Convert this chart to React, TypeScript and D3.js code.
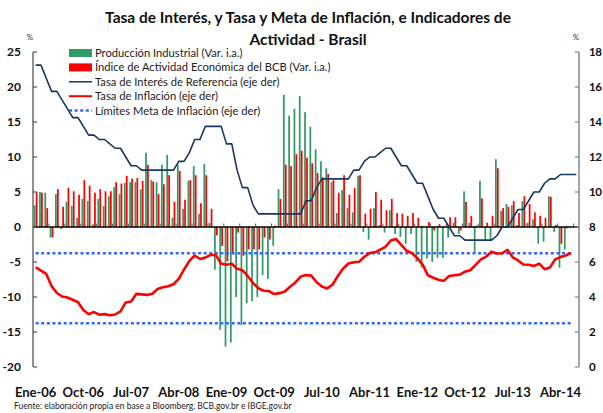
import React from "react";
import * as d3 from "d3";

const W = 603;
const H = 413;

const monthNames = ["Ene", "Feb", "Mar", "Abr", "May", "Jun", "Jul", "Ago", "Sep", "Oct", "Nov", "Dic"];
const years = ["06", "07", "08", "09", "10", "11", "12", "13", "14"];
const categories: string[] = [];
years.forEach((yy) => monthNames.forEach((m) => categories.push(`${m}-${yy}`)));
categories.splice(103); // Ene-06 .. Jul-14

const xTickLabels = ["Ene-06", "Oct-06", "Jul-07", "Abr-08", "Ene-09", "Oct-09", "Jul-10", "Abr-11", "Ene-12", "Oct-12", "Jul-13", "Abr-14"];
const leftTicks = [25, 20, 15, 10, 5, 0, -5, -10, -15, -20];
const rightTicks = [18, 16, 14, 12, 10, 8, 6, 4, 2, 0];

// Producción Industrial (Var. i.a.) - eje izq
const prodIndustrial = [
  3.1, 5.0, 4.9, -1.5, 4.7, -0.3, 3.6, 3.0, 1.3, 4.0, 3.7, 0.4,
  4.0, 3.0, 4.4, 5.7, 4.7, 6.3, 6.4, 6.4, 5.4, 10.6, 6.7, 6.4,
  8.9, 10.3, 1.3, 8.9, 2.6, 6.6, 8.7, 1.9, 9.0, 0.6, -6.1, -14.7,
  -17.1, -16.5, -10.0, -14.0, -10.9, -10.6, -10.0, -6.9, -7.4, -2.7, 5.4, 18.9,
  15.9, 16.9, 18.7, 16.4, 14.3, 11.1, 9.4, 8.4, 6.4, 2.0, 5.3, 2.7,
  2.1, 7.3, -0.7, -1.8, 2.7, 0.3, -0.8, 2.4, -1.0, -1.4, -2.4, -1.0,
  -5.0, -5.8, -4.5, -5.0, -4.4, -4.4, -1.5, 0.6, -1.0, 5.1, 0.6, -3.7,
  6.6, -1.8, -2.0, 9.7, 2.3, 3.3, 3.1, 0.3, 3.7, 0.6, 1.1, -2.4,
  -2.1, 4.4, -0.7, -5.8, -3.2,
];

// Índice de Actividad Económica del BCB (Var. i.a.) - eje izq
const ibcBr = [
  5.0, 4.9, 2.7, -1.5, 5.4, 2.9, 5.6, 5.1, 4.6, 6.7, 5.9, 4.9,
  5.4, 5.1, 5.1, 6.4, 6.2, 7.3, 6.9, 7.0, 6.6, 8.9, 6.5, 4.7,
  6.1, 7.4, 3.6, 8.0, 3.9, 6.7, 7.4, 3.4, 7.4, 2.6, -1.2, -2.7,
  -4.9, -3.9, -0.8, -4.1, -3.2, -3.2, -3.2, -1.5, -1.8, 0.2, 4.0, 8.9,
  8.7, 10.4, 10.9, 9.9, 9.1, 7.7, 7.1, 7.6, 6.7, 4.9, 7.4, 4.6,
  5.6, 7.4, 1.9, 2.6, 5.0, 3.9, 2.4, 4.0, 2.0, 1.9, 1.6, 2.0,
  1.3, 0.1, 0.7, -0.5, 0.4, 0.1, 1.4, 1.4, -0.5, 3.6, 1.6, 0.2,
  4.1, 0.6, 1.6, 8.4, 2.7, 2.9, 3.7, 2.0, 4.4, 3.3, 2.1, 1.6,
  1.3, 4.3, 0.3, -2.4, -0.2,
];

// Tasa de Interés de Referencia (eje der)
const selic = [
  17.25, 17.25, 16.5, 15.75, 15.75, 15.25, 14.75, 14.25, 14.25, 13.75, 13.25, 13.25,
  13.0, 13.0, 12.75, 12.5, 12.5, 12.0, 11.5, 11.5, 11.25, 11.25, 11.25, 11.25,
  11.25, 11.25, 11.25, 11.75, 11.75, 12.25, 13.0, 13.0, 13.75, 13.75, 13.75, 13.75,
  12.75, 12.75, 11.25, 10.25, 10.25, 9.25, 8.75, 8.75, 8.75, 8.75, 8.75, 8.75,
  8.75, 8.75, 8.75, 9.5, 9.5, 10.25, 10.75, 10.75, 10.75, 10.75, 10.75, 10.75,
  11.25, 11.25, 11.75, 12.0, 12.0, 12.25, 12.5, 12.5, 12.0, 11.5, 11.5, 11.0,
  10.5, 10.5, 9.75, 9.0, 8.5, 8.5, 8.0, 7.5, 7.5, 7.25, 7.25, 7.25,
  7.25, 7.25, 7.25, 7.5, 8.0, 8.0, 8.5, 9.0, 9.0, 9.5, 10.0, 10.0,
  10.5, 10.75, 10.75, 11.0, 11.0, 11.0, 11.0,
];

// Tasa de Inflación (eje der)
const inflacion = [
  5.70, 5.51, 5.32, 4.63, 4.23, 4.03, 3.97, 3.84, 3.70, 3.26, 3.02, 3.14,
  2.99, 3.02, 2.96, 3.00, 3.18, 3.69, 3.74, 4.18, 4.15, 4.12, 4.19, 4.46,
  4.56, 4.61, 4.73, 5.04, 5.58, 6.06, 6.37, 6.17, 6.25, 6.41, 6.39, 5.90,
  5.84, 5.90, 5.61, 5.53, 5.20, 4.80, 4.50, 4.36, 4.34, 4.17, 4.22, 4.31,
  4.59, 4.83, 5.17, 5.26, 5.22, 4.84, 4.60, 4.49, 4.70, 5.20, 5.63, 5.91,
  5.99, 6.01, 6.30, 6.51, 6.55, 6.71, 6.87, 7.23, 7.31, 6.97, 6.64, 6.50,
  6.22, 5.85, 5.24, 5.10, 4.99, 4.92, 5.20, 5.24, 5.28, 5.45, 5.53, 5.84,
  6.15, 6.31, 6.59, 6.49, 6.50, 6.70, 6.27, 6.09, 5.86, 5.84, 5.77, 5.91,
  5.59, 5.68, 6.15, 6.28, 6.37, 6.52,
];

// Límites Meta de Inflación (eje der)
const metaLimites = [6.5, 2.5];

const COLORS = {
  green: "#339966",
  red: "#ff0000",
  navy: "#17375e",
  blue: "#3366ff",
};

const FONT = "Lato, 'Open Sans', 'DejaVu Sans', sans-serif";

export default function App() {
  const x0 = 33;
  const x1 = 579;
  const yTop = 52;
  const yBot = 367;

  const x = d3.scaleBand<string>().domain(categories).range([x0, x1]).paddingInner(0).paddingOuter(0);
  const bw = x.bandwidth();
  const cx = (i: number) => (x(categories[i]) as number) + bw / 2;

  const yL = d3.scaleLinear().domain([-20, 25]).range([yBot, yTop]);
  const yR = d3.scaleLinear().domain([0, 18]).range([yBot, yTop]);

  const barW = 1.75;

  const lineR = d3
    .line<number>()
    .x((_, i) => cx(i))
    .y((d) => yR(d));

  const legend = [
    { type: "rect", color: COLORS.green, label: "Producción Industrial (Var. i.a.)" },
    { type: "rect", color: COLORS.red, label: "Índice de Actividad Económica del BCB (Var. i.a.)" },
    { type: "line", color: COLORS.navy, label: "Tasa de Interés de Referencia (eje der)" },
    { type: "line", color: COLORS.red, label: "Tasa de Inflación (eje der)" },
    { type: "dash", color: COLORS.blue, label: "Límites Meta de Inflación (eje der)" },
  ];

  const axisTicks = d3.range(3, categories.length + 1, 3);

  return (
    <svg width={W} height={H} style={{ position: "absolute", left: 0, top: 0, background: "#fff" }} fontFamily={FONT}>
      <rect x={0} y={0} width={W} height={H} fill="#fff" />
      {/* Title */}
      <text x={308} y={23} textAnchor="middle" fontWeight="bold" fontSize={15.5} fill="#111">
        Tasa de Interés, y Tasa y Meta de Inflación, e Indicadores de
      </text>
      <text x={308} y={45} textAnchor="middle" fontWeight="bold" fontSize={15.5} fill="#111">
        Actividad - Brasil
      </text>

      {/* % labels */}
      <text x={30} y={40} textAnchor="middle" fontSize={8} fill="#333">%</text>
      <text x={576} y={40} textAnchor="middle" fontSize={8} fill="#333">%</text>

      {/* Bars */}
      {prodIndustrial.map((v, i) => (
        <rect
          key={"g" + i}
          x={cx(i) - barW - 0.1}
          y={Math.min(yL(v), yL(0))}
          width={barW}
          height={Math.abs(yL(v) - yL(0))}
          fill={COLORS.green}
        />
      ))}
      {ibcBr.map((v, i) => (
        <rect
          key={"r" + i}
          x={cx(i) + 0.1}
          y={Math.min(yL(v), yL(0))}
          width={barW}
          height={Math.abs(yL(v) - yL(0))}
          fill={COLORS.red}
        />
      ))}

      {/* Target limits */}
      {metaLimites.map((v, k) => (
        <line
          key={"m" + k}
          x1={cx(0)}
          x2={cx(inflacion.length - 1)}
          y1={yR(v)}
          y2={yR(v)}
          stroke={COLORS.blue}
          strokeWidth={2.5}
          strokeDasharray="3,2.6"
        />
      ))}

      {/* Zero line and category ticks */}
      <line x1={x0} x2={x1} y1={yL(0)} y2={yL(0)} stroke="#000" strokeWidth={1.3} />
      {axisTicks.map((k) => {
        const xx = k < categories.length ? (x(categories[k]) as number) : x1;
        return <line key={"t" + k} x1={xx} x2={xx} y1={yL(0)} y2={yL(0) - 3.5} stroke="#555" strokeWidth={1} />;
      })}

      {/* Lines */}
      <path d={lineR(selic) || ""} fill="none" stroke={COLORS.navy} strokeWidth={1.6} strokeLinejoin="round" />
      <path d={lineR(inflacion) || ""} fill="none" stroke={COLORS.red} strokeWidth={2.6} strokeLinejoin="round" />

      {/* Left axis */}
      <line x1={x0} x2={x0} y1={yTop} y2={yBot} stroke="#555" strokeWidth={1.3} />
      {leftTicks.map((t) => (
        <g key={"lt" + t}>
          <line x1={x0} x2={x0 + 4} y1={yL(t)} y2={yL(t)} stroke="#555" strokeWidth={1.2} />
          <text x={21} y={yL(t)} dy="0.36em" textAnchor="end" fontWeight="bold" fontSize={12} fill="#111">
            {t}
          </text>
        </g>
      ))}

      {/* Right axis */}
      <line x1={x1} x2={x1} y1={yTop} y2={yBot} stroke="#888" strokeWidth={1.5} />
      {rightTicks.map((t) => (
        <g key={"rt" + t}>
          <line x1={x1 - 4} x2={x1} y1={yR(t)} y2={yR(t)} stroke="#888" strokeWidth={1.2} />
          <text x={589} y={yR(t)} dy="0.36em" textAnchor="start" fontWeight="bold" fontSize={11.5} letterSpacing={-0.4} fill="#111">
            {t}
          </text>
        </g>
      ))}

      {/* X labels */}
      {xTickLabels.map((lab) => (
        <text key={lab} x={cx(categories.indexOf(lab))} y={397} textAnchor="middle" fontWeight="bold" fontSize={13} fill="#111">
          {lab}
        </text>
      ))}

      {/* Legend */}
      {legend.map((item, i) => {
        const yy = 53 + i * 14.4;
        return (
          <g key={"lg" + i}>
            {item.type === "rect" && <rect x={69} y={yy - 4} width={23} height={8} fill={item.color} />}
            {item.type === "line" && <line x1={69} x2={92} y1={yy} y2={yy} stroke={item.color} strokeWidth={item.color === COLORS.red ? 2 : 1.5} />}
            {item.type === "dash" && (
              <line x1={69} x2={92} y1={yy} y2={yy} stroke={item.color} strokeWidth={2.5} strokeDasharray="3,2.6" />
            )}
            <text x={95} y={yy} dy="0.36em" fontSize={11.2} fill="#222">
              {item.label}
            </text>
          </g>
        );
      })}

      {/* Footer */}
      <text x={14} y={409} fontSize={8.5} fill="#222">
        Fuente: elaboración propia en base a Bloomberg, BCB.gov.br e IBGE.gov.br
      </text>
    </svg>
  );
}
